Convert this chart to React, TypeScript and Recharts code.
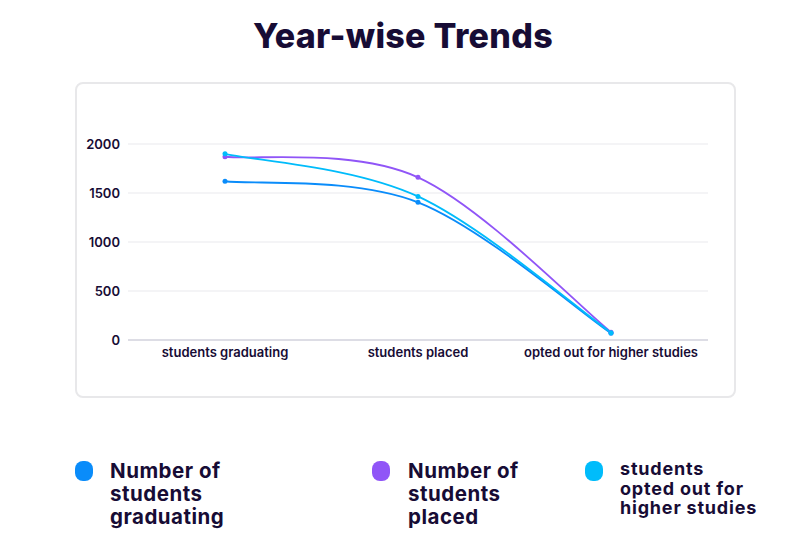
import React from "react";
import { LineChart, Line, XAxis, YAxis, CartesianGrid } from "recharts";

const categories = ["students graduating", "students placed", "opted out for higher studies"];
const graduating = [1620, 1405, 70];
const placed = [1870, 1660, 80];
const optedOut = [1900, 1465, 75];
const yTicks = [0, 500, 1000, 1500, 2000];

const SERIES = [
  { key: "graduating", color: "#0a8cfa", label: ["Number of", "students", "graduating"] },
  { key: "placed", color: "#9055f7", label: ["Number of", "students", "placed"] },
  { key: "optedOut", color: "#00bcfb", label: ["students", "opted out for", "higher studies"] },
];

const data = categories.map((name, i) => ({
  name,
  graduating: graduating[i],
  placed: placed[i],
  optedOut: optedOut[i],
}));

const FONT = "Inter, 'Open Sans', sans-serif";
const INK = "#170c35";

// cardinal (catmull-rom like) spline in pixel space, ends use the point itself as neighbour
function smoothCurve(context: any) {
  let pts: number[][] = [];
  const k = 1 / 6;
  return {
    areaStart() {},
    areaEnd() {},
    lineStart() {
      pts = [];
    },
    point(x: number, y: number) {
      pts.push([+x, +y]);
    },
    lineEnd() {
      const n = pts.length;
      if (!n) return;
      context.moveTo(pts[0][0], pts[0][1]);
      for (let i = 0; i < n - 1; i++) {
        const p0 = pts[Math.max(0, i - 1)];
        const p1 = pts[i];
        const p2 = pts[i + 1];
        const p3 = pts[Math.min(n - 1, i + 2)];
        context.bezierCurveTo(
          p1[0] + k * (p2[0] - p0[0]),
          p1[1] + k * (p2[1] - p0[1]),
          p2[0] - k * (p3[0] - p1[0]),
          p2[1] - k * (p3[1] - p1[1]),
          p2[0],
          p2[1]
        );
      }
    },
  };
}

function LegendItem({
  left,
  textLeft,
  color,
  lines,
  fontSize,
  lineHeight,
  letterSpacing,
  top,
}: {
  left: number;
  textLeft: number;
  color: string;
  lines: string[];
  fontSize: number;
  lineHeight: number;
  letterSpacing: number;
  top: number;
}) {
  return (
    <>
      <div
        style={{
          position: "absolute",
          left,
          top: 461,
          width: 18,
          height: 20,
          borderRadius: 8,
          background: color,
        }}
      />
      <div
        style={{
          position: "absolute",
          left: textLeft,
          top,
          fontSize,
          lineHeight: `${lineHeight}px`,
          letterSpacing,
          fontWeight: 700,
          color: INK,
          fontFamily: FONT,
          whiteSpace: "nowrap",
        }}
      >
        {lines.map((l, i) => (
          <div key={i}>{l}</div>
        ))}
      </div>
    </>
  );
}

export default function App() {
  return (
    <div
      style={{
        position: "absolute",
        left: 0,
        top: 0,
        width: 806,
        height: 546,
        background: "#fff",
        fontFamily: FONT,
      }}
    >
      <div
        style={{
          position: "absolute",
          left: 0,
          width: 806,
          top: 15,
          textAlign: "center",
          fontSize: 34,
          fontWeight: 800,
          letterSpacing: 0.3,
          color: INK,
        }}
      >
        Year-wise Trends
      </div>

      <div
        style={{
          position: "absolute",
          left: 75,
          top: 82,
          width: 661,
          height: 316,
          boxSizing: "border-box",
          border: "2px solid #e8e8ea",
          borderRadius: 8,
        }}
      />

      <div style={{ position: "absolute", left: 75, top: 82 }}>
        <LineChart width={661} height={316} data={data} margin={{ top: 62, right: 28, left: 0, bottom: 28 }}>
          <CartesianGrid vertical={false} stroke="#f0f0f3" strokeWidth={1.5} />
          <XAxis
            dataKey="name"
            height={30}
            padding={{ left: 97, right: 97 }}
            tick={{ fontSize: 13, fill: INK, fontWeight: 600 }}
            tickLine={false}
            axisLine={{ stroke: "#dddde5", strokeWidth: 2 }}
          />
          <YAxis
            width={53}
            ticks={yTicks}
            domain={[0, 2000]}
            tick={{ fontSize: 13, fill: INK, fontWeight: 600 }}
            tickLine={false}
            axisLine={false}
          />
          {SERIES.map((s) => (
            <Line
              key={s.key}
              type={smoothCurve as any}
              dataKey={s.key}
              stroke={s.color}
              strokeWidth={1.8}
              dot={{ r: 2.5, fill: s.color, stroke: s.color, strokeWidth: 0 }}
              isAnimationActive={false}
            />
          ))}
        </LineChart>
      </div>

      <LegendItem left={75} textLeft={110} top={459} color={SERIES[0].color} lines={SERIES[0].label} fontSize={20.5} lineHeight={23} letterSpacing={0.5} />
      <LegendItem left={372} textLeft={408} top={459} color={SERIES[1].color} lines={SERIES[1].label} fontSize={20.5} lineHeight={23} letterSpacing={0.5} />
      <LegendItem left={585} textLeft={620} top={459} color={SERIES[2].color} lines={SERIES[2].label} fontSize={18} lineHeight={19.5} letterSpacing={0.8} />
    </div>
  );
}
